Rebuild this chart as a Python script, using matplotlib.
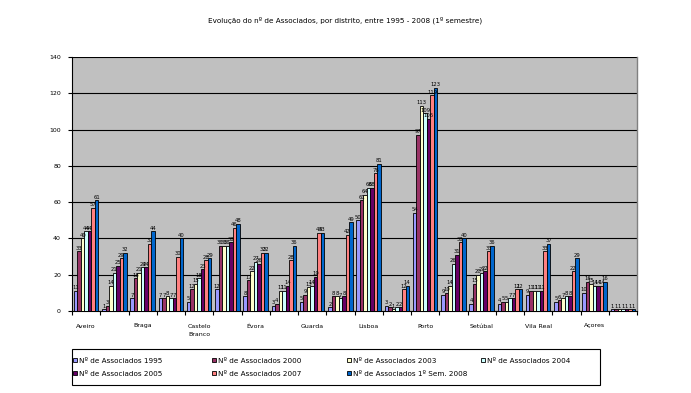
import numpy as np
import matplotlib
matplotlib.use("Agg")
import matplotlib.pyplot as plt
from matplotlib.patches import Rectangle

districts = ["Aveiro", "Beja", "Braga", "Bragança", "Castelo\nBranco", "Coimbra", "Évora",
             "Faro", "Guarda", "Leiria", "Lisboa", "Portalegre", "Porto", "Santarém",
             "Setúbal", "Viana do Castelo", "Vila Real", "Viseu", "Açores", "Madeira"]

series_names = ["Nº de Associados 1995", "Nº de Associados 2000", "Nº de Associados 2003",
                "Nº de Associados 2004", "Nº de Associados 2005", "Nº de Associados 2007",
                "Nº de Associados 1º Sem. 2008"]

v1995 = [11, 1, 7, 7, 5, 12, 8, 3, 5, 2, 50, 3, 54, 9, 4, 4, 9, 5, 10, 1]
v2000 = [33, 3, 18, 7, 12, 36, 17, 4, 9, 8, 61, 2, 97, 10, 15, 5, 11, 6, 16, 1]
v2003 = [40, 14, 21, 8, 15, 36, 22, 11, 13, 8, 64, 1, 113, 14, 20, 5, 11, 7, 15, 1]
v2004 = [44, 21, 24, 7, 18, 36, 27, 11, 14, 7, 68, 2, 109, 26, 21, 7, 11, 8, 14, 1]
v2005 = [44, 25, 24, 7, 23, 38, 26, 14, 19, 8, 68, 2, 106, 31, 22, 7, 11, 8, 14, 1]
v2007 = [57, 29, 37, 30, 28, 46, 32, 28, 43, 42, 76, 12, 119, 38, 33, 12, 33, 22, 14, 1]
v2008 = [61, 32, 44, 40, 29, 48, 32, 36, 43, 49, 81, 14, 123, 40, 36, 12, 37, 29, 16, 1]

series = [v1995, v2000, v2003, v2004, v2005, v2007, v2008]
colors = ["#9999FF", "#993366", "#FFFFCC", "#CCFFFF", "#660066", "#FF8080", "#0066CC"]

title = "Evolução do nº de Associados, por distrito, entre 1995 - 2008 (1º semestre)"
yticks = [0, 20, 40, 60, 80, 100, 120, 140]

W, H = 691, 393
fig = plt.figure(figsize=(W / 100, H / 100), dpi=100)
fig.patch.set_facecolor("white")
ax = fig.add_axes([72 / W, 1 - 311 / H, (637 - 72) / W, (311 - 57) / H])
ax.set_facecolor("#C0C0C0")

n = len(series)
gw = 0.86
bw = gw / n
x = np.arange(len(districts))
for i, (vals, c) in enumerate(zip(series, colors)):
    xs = x + (i - (n - 1) / 2) * bw
    ax.bar(xs, vals, width=bw, color=c, edgecolor="black", linewidth=0.6, zorder=3)
    for xi, v in zip(xs, vals):
        ax.text(xi, v + 0.3, str(v), ha="center", va="bottom", fontsize=3.8,
                color="black", zorder=4)

ax.set_xlim(-0.5, len(districts) - 0.5)
ax.set_ylim(0, 140)
ax.set_yticks(yticks)
ax.set_yticklabels([str(t) for t in yticks], fontsize=4.5)
ax.yaxis.grid(True, color="black", linewidth=0.8, zorder=1)
ax.set_axisbelow(True)

ax.set_xticks(x[::2])
ax.set_xticklabels(districts[::2], fontsize=4.5, linespacing=2.0)
ax.set_xticks(np.arange(-0.5, len(districts), 1), minor=True)
ax.tick_params(axis="x", which="major", length=0, pad=9)
ax.tick_params(axis="x", which="minor", length=3, direction="out", width=0.8)
ax.tick_params(axis="y", length=3, direction="out", width=0.8, pad=5)

for s in ["left", "bottom"]:
    ax.spines[s].set_color("black")
    ax.spines[s].set_linewidth(0.8)
ax.spines["right"].set_color("#808080")
ax.spines["right"].set_linewidth(1.0)
ax.spines["top"].set_visible(False)

fig.text(345 / W, 1 - 20 / H, title, ha="center", va="center", fontsize=5.2)

# legend (row-major, 4 columns)
fig.patches.append(Rectangle((72 / W, 1 - 385 / H), (600 - 72) / W, (385 - 349) / H,
                             transform=fig.transFigure, facecolor="white",
                             edgecolor="black", linewidth=0.8))
col_x = [73, 212, 347, 481]
row_y = [361, 374]
for k, (name, c) in enumerate(zip(series_names, colors)):
    r, cc = divmod(k, 4)
    mx, my = col_x[cc], row_y[r]
    fig.patches.append(Rectangle((mx / W, 1 - (my + 1) / H), 4 / W, 4 / H,
                                 transform=fig.transFigure, facecolor=c,
                                 edgecolor="black", linewidth=0.6))
    fig.text((mx + 6) / W, 1 - my / H, name, ha="left", va="center", fontsize=5.2)

fig.savefig("out.png", dpi=100)
